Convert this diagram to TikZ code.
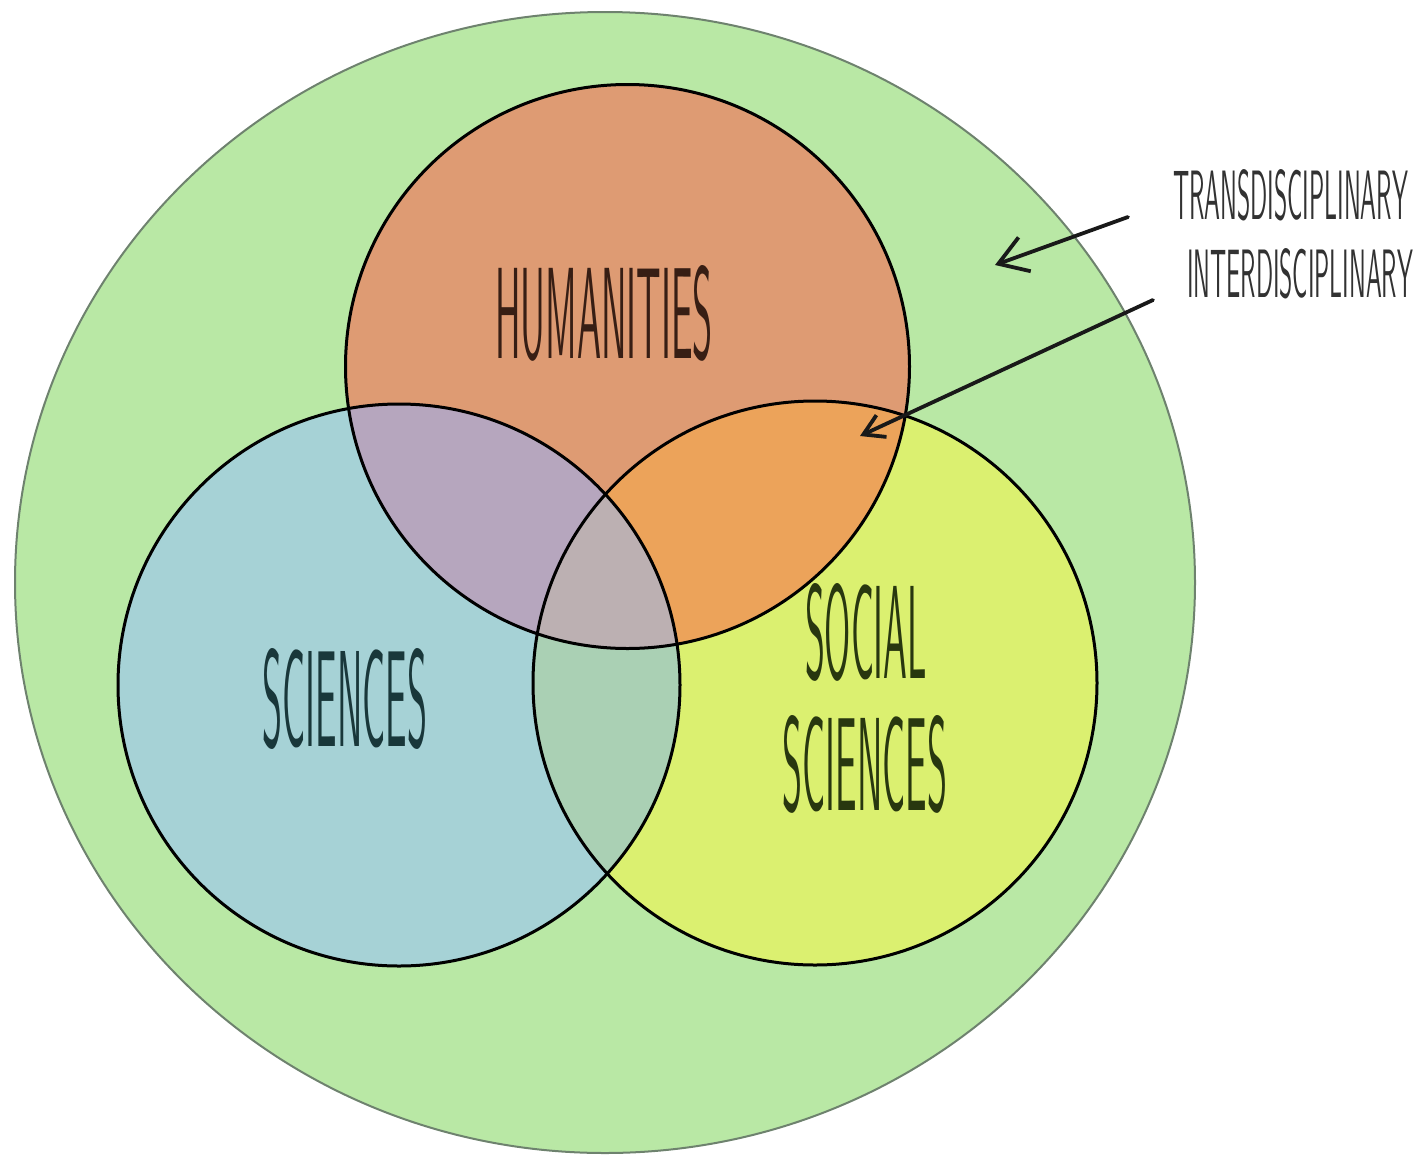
\documentclass[tikz,border=0pt]{standalone}
\usepackage{graphicx}
\usetikzlibrary{arrows.meta}
\definecolor{transgreen}{RGB}{185,232,165}
\definecolor{humcol}{RGB}{222,155,115}
\definecolor{scicol}{RGB}{166,210,214}
\definecolor{soccol}{RGB}{219,240,112}
\definecolor{humsci}{RGB}{182,166,190}
\definecolor{humsoc}{RGB}{236,163,90}
\definecolor{scisoc}{RGB}{170,208,180}
\definecolor{allthree}{RGB}{188,176,178}
\definecolor{outerline}{RGB}{110,130,110}
\definecolor{humtext}{RGB}{55,30,20}
\definecolor{scitext}{RGB}{25,55,58}
\definecolor{soctext}{RGB}{40,55,15}
\definecolor{labeltext}{RGB}{50,50,50}
\tikzset{
  ring/.style={draw=black, line width=1.5pt},
  lbl/.style={inner sep=0pt, outer sep=0pt},
  pointer/.style={draw=black!90, line width=1.9pt, line cap=round},
}
\begin{document}
\begin{tikzpicture}[x=0.5pt,y=-0.5pt]
\useasboundingbox (0,0) rectangle (1426,1163);
% outer transdisciplinary area
\fill[transgreen] (605,582.5) ellipse [x radius=590, y radius=570.5];
\draw[outerline, line width=1pt] (605,582.5) ellipse [x radius=590, y radius=570.5];
% base circles
\fill[humcol] (627.5,366.5) circle [radius=282];
\fill[scicol] (399,685) circle [radius=281];
\fill[soccol] (815,683) circle [radius=282];
% pairwise overlaps
\begin{scope}
  \clip (627.5,366.5) circle [radius=282];
  \fill[humsci] (399,685) circle [radius=281];
\end{scope}
\begin{scope}
  \clip (627.5,366.5) circle [radius=282];
  \fill[humsoc] (815,683) circle [radius=282];
\end{scope}
\begin{scope}
  \clip (399,685) circle [radius=281];
  \fill[scisoc] (815,683) circle [radius=282];
\end{scope}
\begin{scope}
  \clip (627.5,366.5) circle [radius=282];
  \clip (399,685) circle [radius=281];
  \fill[allthree] (815,683) circle [radius=282];
\end{scope}
% outlines
\draw[ring] (627.5,366.5) circle [radius=282];
\draw[ring] (399,685) circle [radius=281];
\draw[ring] (815,683) circle [radius=282];
% labels
\node[lbl, text=humtext] (hum) at (604,313.5) {\resizebox{109pt}{46.5pt}{\sffamily HUMANITIES}};
\node[lbl, text=scitext] (sci) at (345,699) {\resizebox{82pt}{49pt}{\sffamily SCIENCES}};
\node[lbl, text=soctext] (soc1) at (866,632.5) {\resizebox{61pt}{47.5pt}{\sffamily SOCIAL}};
\node[lbl, text=soctext] (soc2) at (865,764.5) {\resizebox{82pt}{47.5pt}{\sffamily SCIENCES}};
\node[lbl, text=labeltext] (trans) at (1290.5,195) {\resizebox{117.5pt}{25pt}{\sffamily TRANSDISCIPLINARY}};
\node[lbl, text=labeltext] (inter) at (1300,273.5) {\resizebox{113pt}{24.5pt}{\sffamily INTERDISCIPLINARY}};
% pointers
\coordinate (tstart) at (1128,217);
\coordinate (ttip) at (995,265);
\coordinate (istart) at (1153,300);
\coordinate (itip) at (860,436);
\draw[pointer, -{Straight Barb[length=14pt,width=18pt,line width=1.9pt]}] (tstart) -- (ttip);
\draw[pointer, -{Straight Barb[length=10pt,width=12pt,line width=1.9pt]}] (istart) -- (itip);
\end{tikzpicture}
\end{document}
